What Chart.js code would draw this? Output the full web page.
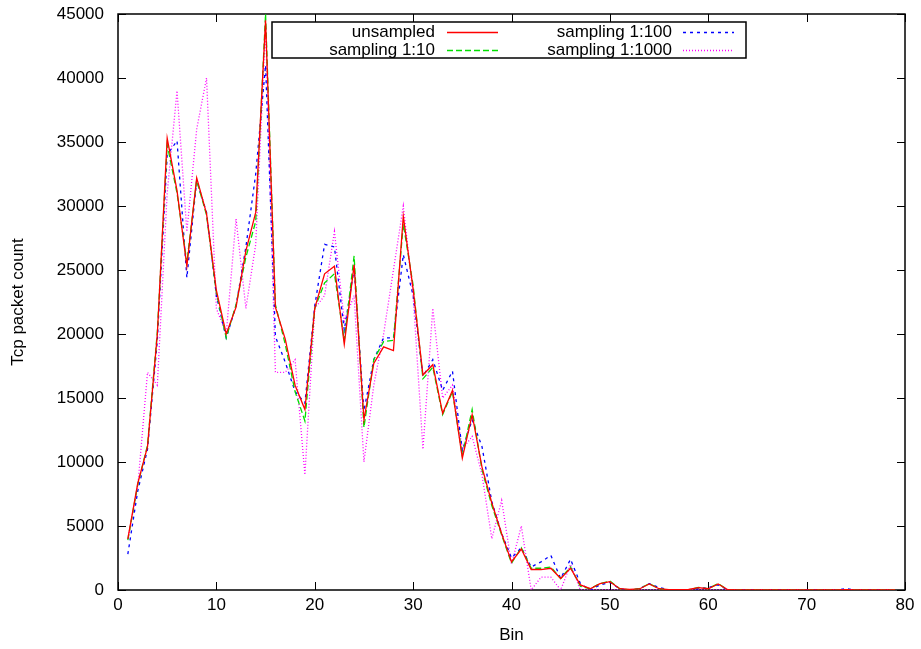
<!DOCTYPE html>
<html>
<head>
<meta charset="utf-8">
<script src="https://cdn.jsdelivr.net/npm/chart.js@4.4.0/dist/chart.umd.min.js"></script>
<style>
  body { margin: 0; background: #fff; }
  canvas { display: block; }
</style>
</head>
<body>
<canvas id="c" width="921" height="649"></canvas>
<script>
// bins (x axis)
const bins = [1,2,3,4,5,6,7,8,9,10,11,12,13,14,15,16,17,18,19,20,
  21,22,23,24,25,26,27,28,29,30,31,32,33,34,35,36,37,38,39,40,
  41,42,43,44,45,46,47,48,49,50,51,52,53,54,55,56,57,58,59,60,
  61,62,63,64,65,66,67,68,69,70,71,72,73,74,75,76,77,78,79];

const unsampled = [4000,8300,11200,20000,35300,31200,25300,32200,29400,23400,
  20000,22100,26500,29500,44500,22100,19600,16000,14100,22000,
  24700,25300,19200,25400,13300,17700,19000,18700,29200,23500,
  16800,17600,13800,15600,10300,13700,9600,6800,4400,2200,
  3200,1600,1600,1700,900,1700,400,100,500,650,
  100,50,80,470,100,30,30,40,180,100,
  470,20,10,10,10,10,10,10,10,10,10,10,10,20,10,10,10,10,10];

const sampling10 = [3900,8200,11300,20200,34800,31000,25600,32000,29300,23200,
  19700,22300,26000,28800,45000,22300,19200,15500,13200,22000,
  24000,24700,19500,26100,12700,18000,19400,19500,28600,23800,
  16500,17400,13700,15500,10500,14100,9400,6600,4300,2100,
  3300,1700,1700,1800,900,1800,300,100,500,700,
  100,0,100,500,100,0,0,0,200,100,
  500,0,0,0,0,0,0,0,0,0,0,0,0,0,0,0,0,0,0];

const sampling100 = [2800,7700,11000,19500,34000,35100,24400,32000,29500,23000,
  19700,22200,26800,32500,41000,19800,17800,15500,14600,22200,
  27000,26800,20300,25100,14000,18000,19700,19700,26200,23000,
  16700,18000,15600,17100,10900,13300,11200,6900,4400,2500,
  3300,1800,2200,2700,900,2400,500,0,400,600,
  100,0,100,500,200,0,0,0,100,200,
  400,0,0,0,0,0,0,0,0,0,0,0,0,100,0,0,0,0,0];

const sampling1000 = [4000,8000,17000,16000,31000,39000,28000,36000,40000,22000,
  20000,29000,22000,27000,44000,17000,17000,18000,9000,22000,
  23000,28000,21000,23000,10000,16000,20000,25000,30000,23000,
  11000,22000,15000,16000,11000,12000,9000,4000,7000,2000,
  5000,0,1000,1000,0,2000,0,0,0,0,
  0,0,0,0,0,0,0,0,0,0,
  0,0,0,0,0,0,0,0,0,0,0,0,0,0,0,0,0,0,0];

const xTicks = [0,10,20,30,40,50,60,70,80];
const yTicks = [0,5000,10000,15000,20000,25000,30000,35000,40000,45000];

const FONT = '"Liberation Sans", Arial, sans-serif';

function pts(vals) {
  return bins.map((b, i) => ({ x: b, y: vals[i] }));
}

// gnuplot style frame: border box + inward ticks on all four sides
const framePlugin = {
  id: 'frame',
  beforeDatasetsDraw(chart) {
    const { ctx, chartArea: a, scales: { x, y } } = chart;
    ctx.save();
    ctx.strokeStyle = '#000';
    ctx.lineWidth = 1;
    ctx.beginPath();
    xTicks.forEach(v => {
      const px = Math.round(x.getPixelForValue(v)) + 0.5;
      ctx.moveTo(px, a.bottom); ctx.lineTo(px, a.bottom - 8);
      ctx.moveTo(px, a.top); ctx.lineTo(px, a.top + 8);
    });
    yTicks.forEach(v => {
      const py = Math.round(y.getPixelForValue(v)) + 0.5;
      ctx.moveTo(a.left, py); ctx.lineTo(a.left + 8, py);
      ctx.moveTo(a.right, py); ctx.lineTo(a.right - 8, py);
    });
    ctx.stroke();
    ctx.lineWidth = 1.5;
    ctx.strokeRect(a.left, a.top, a.right - a.left, a.bottom - a.top);
    ctx.restore();
  },
  afterDraw(chart) {
    // key box, two columns, text right-aligned then line sample
    const { ctx } = chart;
    const ds = chart.data.datasets;
    const slots = [
      { tx: 435, sx: 447, y: 32 },
      { tx: 435, sx: 447, y: 50 },
      { tx: 672, sx: 683, y: 32 },
      { tx: 672, sx: 683, y: 50 }
    ];
    ctx.save();
    ctx.strokeStyle = '#000';
    ctx.lineWidth = 1.5;
    ctx.strokeRect(272, 22, 474, 36);
    ctx.font = '17px ' + FONT;
    ctx.textAlign = 'right';
    ctx.textBaseline = 'middle';
    ds.forEach((d, i) => {
      const s = slots[i];
      ctx.fillStyle = '#000';
      ctx.fillText(d.label, s.tx, s.y);
      ctx.strokeStyle = d.borderColor;
      ctx.lineWidth = d.borderWidth;
      ctx.setLineDash(d.borderDash || []);
      ctx.beginPath();
      ctx.moveTo(s.sx, s.y + 0.5);
      ctx.lineTo(s.sx + 51, s.y + 0.5);
      ctx.stroke();
      ctx.setLineDash([]);
    });
    ctx.restore();
  }
};

new Chart(document.getElementById('c'), {
  type: 'line',
  data: {
    datasets: [
      { label: 'unsampled', data: pts(unsampled), borderColor: '#ff0000', borderWidth: 1.3, borderDash: [] },
      { label: 'sampling 1:10', data: pts(sampling10), borderColor: '#00e000', borderWidth: 1.3, borderDash: [6, 3] },
      { label: 'sampling 1:100', data: pts(sampling100), borderColor: '#0000ff', borderWidth: 1.3, borderDash: [3, 4] },
      { label: 'sampling 1:1000', data: pts(sampling1000), borderColor: '#ff00ff', borderWidth: 1.3, borderDash: [1, 2] }
    ]
  },
  options: {
    responsive: false,
    animation: false,
    elements: { point: { radius: 0 }, line: { tension: 0, fill: false } },
    layout: { padding: { top: 14, right: 16, left: 0, bottom: 0 } },
    plugins: { legend: { display: false }, tooltip: { enabled: false } },
    scales: {
      x: {
        type: 'linear', min: 0, max: 80,
        afterFit: s => { s.height = 59; s.paddingLeft = 0; s.paddingRight = 0; },
        afterBuildTicks: s => { s.ticks = xTicks.map(v => ({ value: v })); },
        grid: { display: false, drawTicks: false },
        border: { display: false },
        ticks: { color: '#000', padding: 5, font: { family: FONT, size: 17 } },
        title: { display: true, text: 'Bin', color: '#000', padding: { top: 0, bottom: 3 }, font: { family: FONT, size: 17 } }
      },
      y: {
        type: 'linear', min: 0, max: 45000,
        afterFit: s => { s.width = 118; s.paddingTop = 0; s.paddingBottom = 0; },
        afterBuildTicks: s => { s.ticks = yTicks.map(v => ({ value: v })); },
        grid: { display: false, drawTicks: false },
        border: { display: false },
        ticks: { color: '#000', padding: 14, font: { family: FONT, size: 17 }, callback: v => String(v) },
        title: { display: true, text: 'Tcp packet count', color: '#000', padding: { top: 8, bottom: 0 }, font: { family: FONT, size: 17 } }
      }
    }
  },
  plugins: [framePlugin]
});
</script>
</body>
</html>
